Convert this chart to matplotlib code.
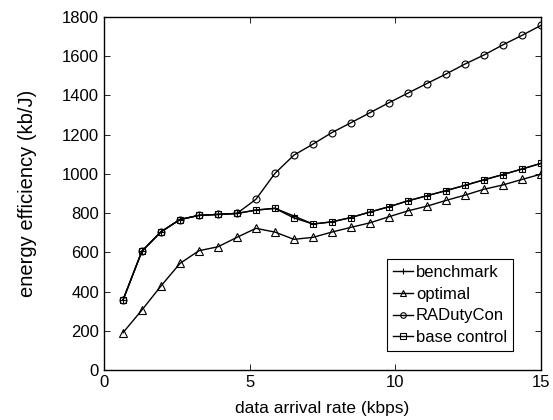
import numpy as np
import matplotlib
matplotlib.use("Agg")
import matplotlib.pyplot as plt

# ----- data -----
x = [15 * k / 23 for k in range(1, 24)]

benchmark = [356, 606, 704, 767, 788, 793, 798, 815, 824, 785, 744, 755, 777,
             805, 832, 862, 888, 914, 941, 969, 996, 1024, 1053]
optimal = [190, 306, 428, 543, 608, 628, 676, 722, 703, 666, 676, 703, 727,
           750, 781, 811, 835, 864, 891, 921, 943, 971, 998]
raduty = [356, 606, 704, 767, 788, 793, 798, 870, 1002, 1095, 1151, 1210, 1260,
          1311, 1362, 1411, 1460, 1508, 1559, 1605, 1657, 1705, 1756]
base_control = [356, 606, 704, 767, 788, 793, 798, 815, 824, 775, 744, 755, 777,
                805, 832, 862, 888, 914, 941, 969, 996, 1024, 1053]

plt.rcParams["font.family"] = ["Liberation Sans", "DejaVu Sans"]
plt.rcParams["font.size"] = 12

fig = plt.figure(figsize=(5.53, 4.2), dpi=100)
ax = fig.add_axes([0.188, 0.119, 0.79, 0.841])

kw = dict(color="black", linewidth=1.0, markerfacecolor="none",
          markeredgecolor="black", markeredgewidth=0.8)
ax.plot(x, benchmark, marker="+", markersize=5, label="benchmark", **kw)
ax.plot(x, optimal, marker="^", markersize=5.5, label="optimal", **kw)
ax.plot(x, raduty, marker="o", markersize=5, label="RADutyCon", **kw)
ax.plot(x, base_control, marker="s", markersize=4.2, label="base control", **kw)

ax.set_xlim(0, 15)
ax.set_ylim(0, 1800)
ax.set_xticks([0, 5, 10, 15])
ax.set_yticks(np.arange(0, 1801, 200))
ax.tick_params(direction="in", top=True, right=True, length=4, width=0.6)
for s in ax.spines.values():
    s.set_linewidth(1.0)

ax.set_xlabel("data arrival rate (kbps)", fontsize=12.5, labelpad=8)
ax.set_ylabel("energy efficiency (kb/J)", fontsize=14.5, labelpad=18)

leg = ax.legend(loc="lower right", bbox_to_anchor=(0.936, 0.054),
                handlelength=1.2, handletextpad=0.2, labelspacing=0.4,
                borderpad=0.35, borderaxespad=0, fancybox=False,
                framealpha=1, edgecolor="black", fontsize=12)
leg.get_frame().set_linewidth(0.8)
for h in leg.get_lines():
    h.set_markersize(4)

fig.savefig("out.png", dpi=100)
